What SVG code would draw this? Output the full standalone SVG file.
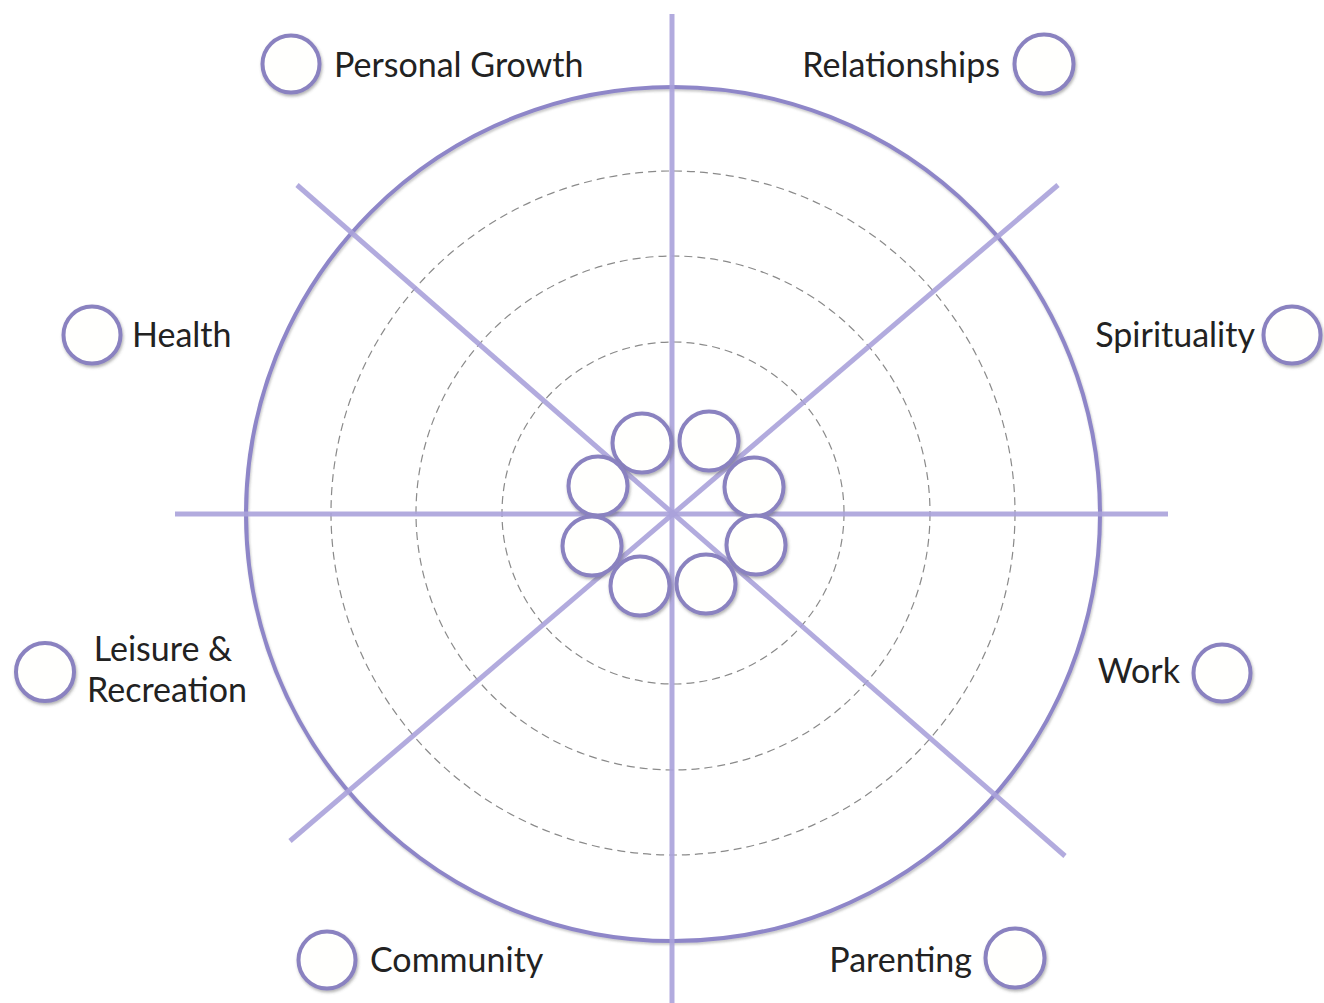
<svg xmlns="http://www.w3.org/2000/svg" width="1324" height="1003" viewBox="0 0 1324 1003">
  <defs>
    <filter id="soft" x="-30%" y="-30%" width="160%" height="160%">
      <feGaussianBlur in="SourceAlpha" stdDeviation="1.6"/>
      <feOffset dx="0.5" dy="1.5" result="b"/>
      <feFlood flood-color="#555" flood-opacity="0.45"/>
      <feComposite in2="b" operator="in"/>
      <feMerge><feMergeNode/><feMergeNode in="SourceGraphic"/></feMerge>
    </filter>
    <filter id="ringShadow" x="-5%" y="-5%" width="110%" height="110%">
      <feGaussianBlur in="SourceAlpha" stdDeviation="1.2"/>
      <feOffset dx="0.5" dy="1.5" result="b"/>
      <feFlood flood-color="#666" flood-opacity="0.35"/>
      <feComposite in2="b" operator="in"/>
      <feMerge><feMergeNode/><feMergeNode in="SourceGraphic"/></feMerge>
    </filter>
  </defs>
  <style>
    .dash { fill: none; stroke: #8a8a8a; stroke-width: 1.2; stroke-dasharray: 8 5; }
    .ring { fill: none; stroke: #8e86c8; stroke-width: 4; }
    .spoke { stroke: #aaa2da; stroke-width: 5; stroke-opacity: 0.9; stroke-linecap: butt; }
    .dot { fill: #fffffd; stroke: #8a82c0; stroke-width: 4; filter: url(#soft); }
    .lbl { font-family: Lato, "Liberation Sans", sans-serif; font-size: 34px; fill: #222; }
  </style>
  <rect width="1324" height="1003" fill="#ffffff"/>

  <!-- scale rings -->
  <g id="scale">
    <circle class="dash" cx="673" cy="513" r="342"/>
    <circle class="dash" cx="673" cy="513" r="257"/>
    <circle class="dash" cx="673" cy="513" r="171"/>
    <circle class="ring" cx="673" cy="514" r="427" filter="url(#ringShadow)"/>
  </g>

  <!-- spokes -->
  <g id="connectors">
    <line class="spoke" x1="672" y1="14" x2="672" y2="1003"/>
    <line class="spoke" x1="175" y1="514" x2="1168" y2="514"/>
    <line class="spoke" x1="297" y1="185" x2="1065" y2="856"/>
    <line class="spoke" x1="1058" y1="185" x2="290" y2="841"/>
  </g>

  <!-- centre ring of markers -->
  <g id="hub">
    <circle class="dot" cx="642" cy="443" r="29.5"/>
    <circle class="dot" cx="709" cy="441" r="29.5"/>
    <circle class="dot" cx="598" cy="486" r="29.5"/>
    <circle class="dot" cx="754" cy="487" r="29.5"/>
    <circle class="dot" cx="592" cy="546" r="29.5"/>
    <circle class="dot" cx="756" cy="545" r="29.5"/>
    <circle class="dot" cx="640" cy="586" r="29.5"/>
    <circle class="dot" cx="706" cy="584" r="29.5"/>
  </g>

  <!-- life areas -->
  <g id="personal-growth">
    <circle class="dot" cx="291" cy="64" r="28.5"/>
    <text class="lbl" x="334" y="77">Personal Growth</text>
  </g>
  <g id="relationships">
    <circle class="dot" cx="1044" cy="64" r="29.5"/>
    <text class="lbl" x="1000" y="77" text-anchor="end">Relationships</text>
  </g>
  <g id="health">
    <circle class="dot" cx="92" cy="335" r="28.5"/>
    <text class="lbl" x="132" y="347">Health</text>
  </g>
  <g id="spirituality">
    <circle class="dot" cx="1292" cy="335" r="28.5"/>
    <text class="lbl" x="1255" y="347" text-anchor="end">Spirituality</text>
  </g>
  <g id="leisure-recreation">
    <circle class="dot" cx="45" cy="672" r="29"/>
    <text class="lbl" text-anchor="middle"><tspan x="163" y="661">Leisure &amp;</tspan><tspan x="167" y="702">Recreation</tspan></text>
  </g>
  <g id="work">
    <circle class="dot" cx="1222" cy="673" r="28.5"/>
    <text class="lbl" x="1180" y="683" text-anchor="end">Work</text>
  </g>
  <g id="community">
    <circle class="dot" cx="327" cy="960" r="28.5"/>
    <text class="lbl" x="370" y="972">Community</text>
  </g>
  <g id="parenting">
    <circle class="dot" cx="1015" cy="958" r="29.5"/>
    <text class="lbl" x="972" y="972" text-anchor="end">Parenting</text>
  </g>
</svg>
